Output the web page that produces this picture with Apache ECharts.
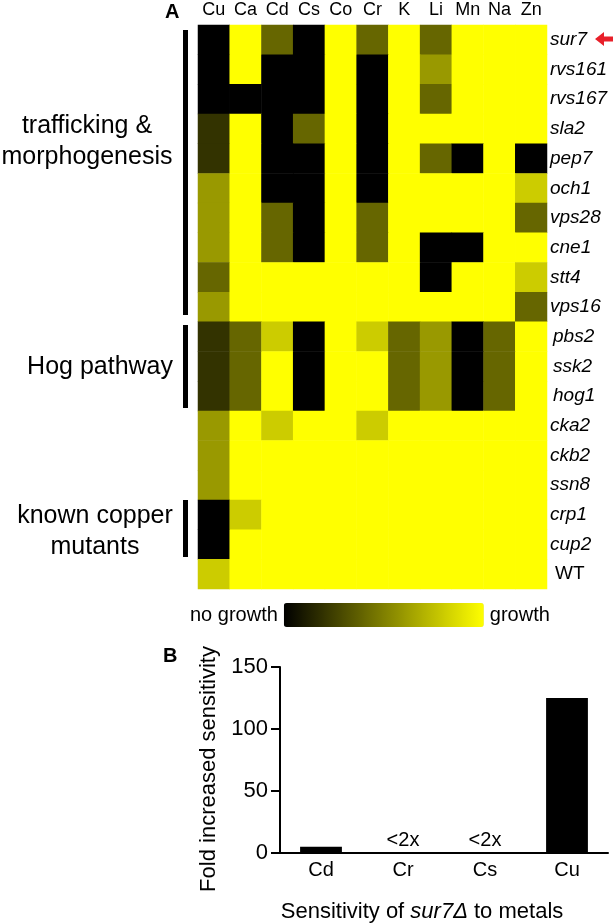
<!DOCTYPE html>
<html>
<head>
<meta charset="utf-8">
<script src="https://cdn.jsdelivr.net/npm/echarts@6/dist/echarts.min.js"></script>
<style>
  html, body { margin: 0; padding: 0; background: #fff; }
  #chart { width: 615px; height: 924px; }
</style>
</head>
<body>
<div id="chart"></div>
<script>
  // metals tested (heatmap columns)
  const metals = ['Cu', 'Ca', 'Cd', 'Cs', 'Co', 'Cr', 'K', 'Li', 'Mn', 'Na', 'Zn'];
  // mutants (heatmap rows, top to bottom)
  const mutants = ['sur7', 'rvs161', 'rvs167', 'sla2', 'pep7', 'och1', 'vps28', 'cne1', 'stt4', 'vps16',
    'pbs2', 'ssk2', 'hog1', 'cka2', 'ckb2', 'ssn8', 'crp1', 'cup2', 'WT'];
  // growth score 0 (no growth) .. 5 (growth), one row per mutant
  const growth = [
    [0, 5, 2, 0, 5, 2, 5, 2, 5, 5, 5],
    [0, 5, 0, 0, 5, 0, 5, 3, 5, 5, 5],
    [0, 0, 0, 0, 5, 0, 5, 2, 5, 5, 5],
    [1, 5, 0, 2, 5, 0, 5, 5, 5, 5, 5],
    [1, 5, 0, 0, 5, 0, 5, 2, 0, 5, 0],
    [3, 5, 0, 0, 5, 0, 5, 5, 5, 5, 4],
    [3, 5, 2, 0, 5, 2, 5, 5, 5, 5, 2],
    [3, 5, 2, 0, 5, 2, 5, 0, 0, 5, 5],
    [2, 5, 5, 5, 5, 5, 5, 0, 5, 5, 4],
    [3, 5, 5, 5, 5, 5, 5, 5, 5, 5, 2],
    [1, 2, 4, 0, 5, 4, 2, 3, 0, 2, 5],
    [1, 2, 5, 0, 5, 5, 2, 3, 0, 2, 5],
    [1, 2, 5, 0, 5, 5, 2, 3, 0, 2, 5],
    [3, 5, 4, 5, 5, 4, 5, 5, 5, 5, 5],
    [3, 5, 5, 5, 5, 5, 5, 5, 5, 5, 5],
    [3, 5, 5, 5, 5, 5, 5, 5, 5, 5, 5],
    [0, 4, 5, 5, 5, 5, 5, 5, 5, 5, 5],
    [0, 5, 5, 5, 5, 5, 5, 5, 5, 5, 5],
    [4, 5, 5, 5, 5, 5, 5, 5, 5, 5, 5]
  ];
  const hogGenes = ['pbs2', 'ssk2', 'hog1'];

  // panel B
  const sensMetals = ['Cd', 'Cr', 'Cs', 'Cu'];
  const foldSens = [5, 0, 0, 125];
  const foldNotes = ['', '<2x', '<2x', ''];

  const FONT = 'Liberation Sans';

  let heatData = [];
  growth.forEach((row, r) => {
    row.forEach((v, c) => heatData.push([c, r, v]));
  });

  const chart = echarts.init(document.getElementById('chart'));

  let option = {
    animation: false,
    textStyle: { fontFamily: FONT, color: '#000' },
    grid: [
      { left: 198, top: 25, width: 349, height: 564 },
      { left: 280, top: 667, right: 7, bottom: 69 }
    ],
    xAxis: [{
      gridIndex: 0,
      type: 'category',
      position: 'top',
      data: metals,
      axisLine: { show: false },
      axisTick: { show: false },
      axisLabel: { interval: 0, fontSize: 18, color: '#000', margin: 6, fontFamily: FONT }
    }, {
      gridIndex: 1,
      type: 'category',
      data: sensMetals,
      axisLine: { lineStyle: { color: '#000', width: 2 } },
      axisTick: { alignWithLabel: true, length: 6, lineStyle: { color: '#000', width: 2 } },
      axisLabel: { interval: 0, fontSize: 20, color: '#000', margin: 7, fontFamily: FONT },
      name: '{n|Sensitivity of }{i|sur7Δ}{n| to metals}',
      nameLocation: 'middle',
      nameGap: 48,
      nameTextStyle: {
        padding: [0, 44, 0, 0],
        rich: {
          n: { fontSize: 22, color: '#000', fontFamily: FONT },
          i: { fontSize: 22, color: '#000', fontStyle: 'italic', fontFamily: FONT }
        }
      }
    }],
    yAxis: [{
      gridIndex: 0,
      type: 'category',
      position: 'right',
      inverse: true,
      data: mutants,
      axisLine: { show: false },
      axisTick: { show: false },
      axisLabel: {
        interval: 0,
        margin: 3,
        align: 'left',
        formatter: (name) => {
          if (name === 'WT') return '{p|' + name + '}';
          if (hogGenes.includes(name)) return '{h|' + name + '}';
          return '{i|' + name + '}';
        },
        rich: {
          i: { fontSize: 19, fontStyle: 'italic', color: '#000', fontFamily: FONT },
          h: { fontSize: 19, fontStyle: 'italic', color: '#000', fontFamily: FONT, padding: [0, 0, 0, 3] },
          p: { fontSize: 19, color: '#000', fontFamily: FONT, padding: [0, 0, 0, 5] }
        }
      }
    }, {
      gridIndex: 1,
      type: 'value',
      min: 0,
      max: 150,
      interval: 50,
      splitLine: { show: false },
      axisLine: { show: true, lineStyle: { color: '#000', width: 2 } },
      axisTick: { show: true, length: 9, lineStyle: { color: '#000', width: 2 } },
      axisLabel: { fontSize: 22, color: '#000', margin: 12, fontFamily: FONT },
      name: 'Fold increased sensitivity',
      nameLocation: 'middle',
      nameGap: 58,
      nameTextStyle: { fontSize: 22, color: '#000', fontFamily: FONT, padding: [0, 0, 0, -18] }
    }],
    visualMap: {
      type: 'continuous',
      seriesIndex: 0,
      min: 0,
      max: 5,
      orient: 'horizontal',
      calculable: false,
      hoverLink: false,
      padding: 0,
      left: 190,
      top: 603,
      itemWidth: 24,
      itemHeight: 200,
      text: ['growth', 'no growth'],
      textGap: 6,
      textStyle: { fontSize: 20, color: '#000', fontFamily: FONT },
      inRange: { color: ['#000000', '#ffff00'] }
    },
    series: [{
      type: 'heatmap',
      xAxisIndex: 0,
      yAxisIndex: 0,
      data: heatData,
      itemStyle: { borderWidth: 0 },
      emphasis: { disabled: true }
    }, {
      type: 'bar',
      xAxisIndex: 1,
      yAxisIndex: 1,
      data: foldSens,
      barWidth: '51%',
      itemStyle: { color: '#000' },
      label: {
        show: true,
        position: 'top',
        distance: 3,
        fontSize: 20,
        color: '#000',
        fontFamily: FONT,
        formatter: (p) => foldNotes[p.dataIndex]
      }
    }],
    graphic: [
      // panel letters
      { type: 'text', left: 165, top: 2, style: { text: 'A', font: 'bold 20px ' + FONT, fill: '#000' } },
      { type: 'text', left: 163, top: 646, style: { text: 'B', font: 'bold 20px ' + FONT, fill: '#000' } },
      // group brackets
      { type: 'rect', shape: { x: 183, y: 30, width: 5, height: 285 }, style: { fill: '#000' } },
      { type: 'rect', shape: { x: 183, y: 325, width: 5, height: 83 }, style: { fill: '#000' } },
      { type: 'rect', shape: { x: 183, y: 500, width: 5, height: 57 }, style: { fill: '#000' } },
      // group labels
      { type: 'text', x: 87, y: 142, style: { text: 'trafficking &\nmorphogenesis', font: '25px ' + FONT, fill: '#000', align: 'center', verticalAlign: 'middle', lineHeight: 31 } },
      { type: 'text', x: 173, y: 367, style: { text: 'Hog pathway', font: '25px ' + FONT, fill: '#000', align: 'right', verticalAlign: 'middle' } },
      { type: 'text', x: 95, y: 532, style: { text: 'known copper\nmutants', font: '25px ' + FONT, fill: '#000', align: 'center', verticalAlign: 'middle', lineHeight: 31 } },
      // red arrow pointing at sur7
      { type: 'polygon', shape: { points: [[595, 39], [604, 32], [604, 36.5], [613, 36.5], [613, 41.5], [604, 41.5], [604, 46]] }, style: { fill: '#e8202a' } }
    ]
  };

  chart.setOption(option);
</script>
</body>
</html>
